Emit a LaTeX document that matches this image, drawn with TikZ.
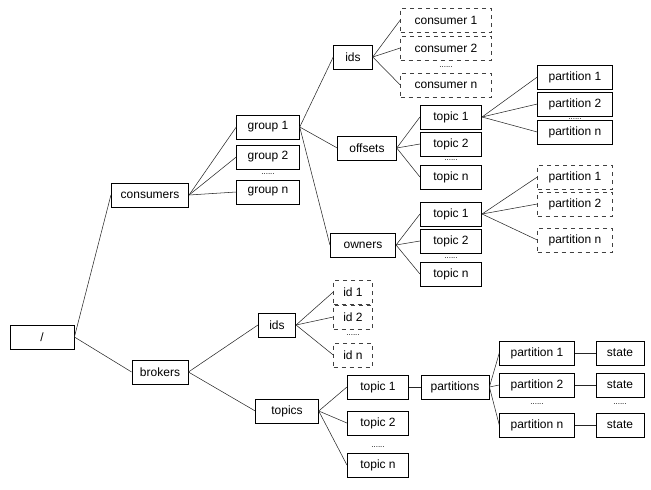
\documentclass[tikz,border=0pt]{standalone}
\usepackage{fontspec}
\setmainfont{Liberation Sans}
\begin{document}
\begin{tikzpicture}[x=0.75pt,y=-0.75pt,
  box/.style={draw,semithick,minimum height=18pt,inner sep=2pt,font=\fontsize{9}{10}\selectfont},
  dbox/.style={box,dashed,draw=black!75},
  dots/.style={font=\fontsize{6}{6}\selectfont,inner sep=0pt},
  line/.style={draw,black!85}]
\useasboundingbox (0,0) rectangle (651,490);
\node[box,minimum width=48pt] (root) at (42,337) {/};
\node[box,minimum width=58pt] (cons) at (150,195) {consumers};
\node[box,minimum width=42pt] (brok) at (160,372) {brokers};
\node[box,minimum width=47pt] (g1) at (268,127) {group 1};
\node[box,minimum width=47pt] (g2) at (268,157) {group 2};
\node[dots] (gd) at (268,174) {......};
\node[box,minimum width=47pt] (gn) at (268,192) {group n};
\node[box,minimum width=29pt] (cids) at (353,57) {ids};
\node[box,minimum width=44pt] (off) at (367,148) {offsets};
\node[box,minimum width=49pt] (own) at (363,245) {owners};
\node[dbox,minimum width=68pt] (c1) at (446,20) {consumer 1};
\node[dbox,minimum width=68pt] (c2) at (446,48) {consumer 2};
\node[dots] (cd) at (446,67) {......};
\node[dbox,minimum width=68pt] (cn) at (446,85) {consumer n};
\node[box,minimum width=46pt] (ot1) at (451,117) {topic 1};
\node[box,minimum width=46pt] (ot2) at (451,144) {topic 2};
\node[dots] (otd) at (451,160) {......};
\node[box,minimum width=46pt] (otn) at (451,177) {topic n};
\node[box,minimum width=56pt] (op1) at (575,77) {partition 1};
\node[box,minimum width=56pt] (op2) at (575,104) {partition 2};
\node[dots] (opd) at (575,119) {......};
\node[box,minimum width=56pt] (opn) at (575,132) {partition n};
\node[box,minimum width=46pt] (wt1) at (451,214) {topic 1};
\node[box,minimum width=46pt] (wt2) at (451,241) {topic 2};
\node[dots] (wtd) at (451,258) {......};
\node[box,minimum width=46pt] (wtn) at (451,274) {topic n};
\node[dbox,minimum width=56pt] (wp1) at (575,177) {partition 1};
\node[dbox,minimum width=56pt] (wp2) at (575,204) {partition 2};
\node[dbox,minimum width=56pt] (wpn) at (575,240) {partition n};
\node[box,minimum width=28pt] (bids) at (277,325) {ids};
\node[dbox,minimum width=29pt] (i1) at (353,292) {id 1};
\node[dbox,minimum width=29pt] (i2) at (353,317) {id 2};
\node[dots] (id) at (353,335) {......};
\node[dbox,minimum width=29pt] (in) at (353,355) {id n};
\node[box,minimum width=47pt] (tops) at (287,411) {topics};
\node[box,minimum width=46pt] (bt1) at (378,387) {topic 1};
\node[box,minimum width=46pt] (bt2) at (378,423) {topic 2};
\node[dots] (btd) at (378,447) {......};
\node[box,minimum width=46pt] (btn) at (378,465) {topic n};
\node[box,minimum width=51pt] (parts) at (455,387) {partitions};
\node[box,minimum width=56pt] (bp1) at (537,353) {partition 1};
\node[box,minimum width=56pt] (bp2) at (537,385) {partition 2};
\node[dots] (bpd) at (537,404) {......};
\node[box,minimum width=56pt] (bpn) at (537,425) {partition n};
\node[box,minimum width=36pt] (s1) at (620,353) {state};
\node[box,minimum width=36pt] (s2) at (620,385) {state};
\node[dots] (sd) at (620,404) {......};
\node[box,minimum width=36pt] (sn) at (620,425) {state};
\foreach \a/\b in {root/cons,root/brok,cons/g1,cons/g2,cons/gn,g1/cids,g1/off,g1/own,
  cids/c1,cids/c2,cids/cn,off/ot1,off/ot2,off/otn,ot1/op1,ot1/op2,ot1/opn,
  own/wt1,own/wt2,own/wtn,wt1/wp1,wt1/wp2,wt1/wpn,brok/bids,brok/tops,
  bids/i1,bids/i2,bids/in,tops/bt1,tops/bt2,tops/btn,bt1/parts,
  parts/bp1,parts/bp2,parts/bpn,bp1/s1,bp2/s2,bpn/sn}
  \draw[line] (\a.east) -- (\b.west);
\end{tikzpicture}
\end{document}
